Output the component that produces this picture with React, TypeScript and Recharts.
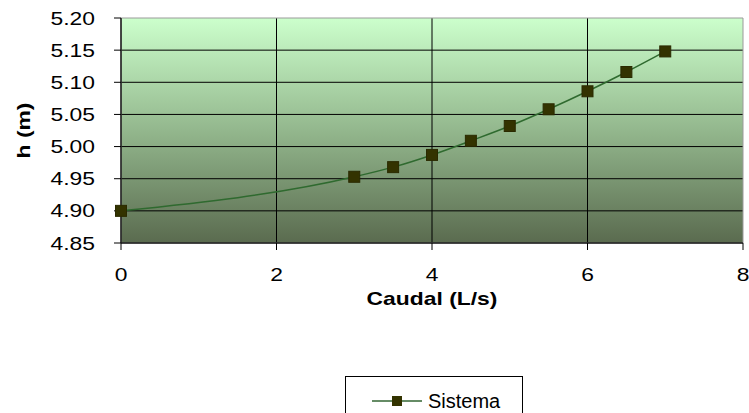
import { Line, LineChart, XAxis, YAxis, CartesianGrid, ReferenceArea } from "recharts";

const caudal = [0, 3, 3.5, 4, 4.5, 5, 5.5, 6, 6.5, 7];
const altura = [4.9, 4.953, 4.968, 4.987, 5.009, 5.032, 5.058, 5.086, 5.116, 5.148];
const xTicks = [0, 2, 4, 6, 8];
const yTicks = [4.85, 4.9, 4.95, 5.0, 5.05, 5.1, 5.15, 5.2];
const xDomain = [0, 8];
const yDomain = [4.85, 5.2];

const data = caudal.map((q, i) => ({ q, h: altura[i] }));

const FONT = "'Liberation Sans', Arial, sans-serif";
const STRETCH = 1.27;

function WideText({ x, y, anchor, children, bold, rotate }: any) {
  const t = rotate
    ? `translate(${x},${y}) rotate(-90) scale(${STRETCH},1)`
    : `translate(${x},${y}) scale(${STRETCH},1)`;
  return (
    <text
      transform={t}
      textAnchor={anchor}
      dominantBaseline="central"
      fontFamily={FONT}
      fontSize={18}
      fontWeight={bold ? "bold" : "normal"}
      fill="#000"
    >
      {children}
    </text>
  );
}

function XTick(props: any) {
  const { x, y, payload } = props;
  return (
    <WideText x={x} y={y + 22} anchor="middle">
      {payload.value}
    </WideText>
  );
}

function YTick(props: any) {
  const { x, y, payload } = props;
  return (
    <WideText x={x - 17} y={y} anchor="end">
      {Number(payload.value).toFixed(2)}
    </WideText>
  );
}

function XLabel(props: any) {
  const { viewBox } = props;
  return (
    <WideText x={viewBox.x + viewBox.width / 2} y={viewBox.y + 55} anchor="middle" bold>
      Caudal (L/s)
    </WideText>
  );
}

function YLabel(props: any) {
  const { viewBox } = props;
  return (
    <WideText x={viewBox.x + 23} y={viewBox.y + viewBox.height / 2} anchor="middle" bold rotate>
      h (m)
    </WideText>
  );
}

function SquareDot(props: any) {
  const { cx, cy } = props;
  if (cx == null || cy == null) return null;
  return <rect x={cx - 5.5} y={cy - 5.5} width={11} height={11} fill="#333300" stroke="#2a2a00" strokeWidth={1} />;
}

function LegendBox() {
  return (
    <div
      style={{
        position: "absolute",
        left: 345,
        top: 376,
        width: 176,
        height: 40,
        border: "1px solid #000",
        background: "#fff",
        fontFamily: FONT,
      }}
    >
      <svg width={60} height={20} style={{ position: "absolute", left: 24, top: 14 }}>
        <line x1={2} y1={10} x2={52} y2={10} stroke="#336633" strokeWidth={1.5} />
        <rect x={22} y={5} width={10} height={10} fill="#333300" />
      </svg>
      <span style={{ position: "absolute", left: 82, top: 13, fontSize: 20, color: "#000" }}>Sistema</span>
    </div>
  );
}

// inner grid lines only; the outer frame is drawn grey like the original
const innerY = ({ offset }: any) =>
  yTicks
    .filter((t) => t !== yDomain[1])
    .map((t) => offset.top + (offset.height * (yDomain[1] - t)) / (yDomain[1] - yDomain[0]));
const innerX = ({ offset }: any) =>
  xTicks
    .filter((t) => t !== xDomain[1])
    .map((t) => offset.left + (offset.width * (t - xDomain[0])) / (xDomain[1] - xDomain[0]));

export default function App() {
  return (
    <div style={{ position: "absolute", left: 0, top: 0, width: 749, height: 413, overflow: "hidden", background: "#fff" }}>
      <LineChart width={749} height={413} data={data} margin={{ top: 18, right: 6, left: 0, bottom: 0 }}>
        <defs>
          <linearGradient id="plotBg" x1="0" y1="0" x2="0" y2="1">
            <stop offset="0%" stopColor="#ccffcc" />
            <stop offset="50%" stopColor="#93b78d" />
            <stop offset="100%" stopColor="#5a6b4f" />
          </linearGradient>
        </defs>
        <CartesianGrid
          stroke="#000"
          strokeWidth={1}
          fill="url(#plotBg)"
          fillOpacity={1}
          horizontalCoordinatesGenerator={innerY}
          verticalCoordinatesGenerator={innerX}
        />
        <ReferenceArea x1={0} x2={8} y1={4.85} y2={5.2} fill="none" stroke="#9a9a9a" strokeWidth={1} />
        <XAxis
          dataKey="q"
          type="number"
          domain={xDomain}
          ticks={xTicks}
          height={170}
          tickSize={7}
          stroke="#000"
          tick={<XTick />}
          label={<XLabel />}
        />
        <YAxis
          dataKey="h"
          type="number"
          domain={yDomain}
          ticks={yTicks}
          width={121}
          tickSize={7}
          stroke="#000"
          tick={<YTick />}
          label={<YLabel />}
        />
        <Line
          type="monotone"
          dataKey="h"
          name="Sistema"
          stroke="#2f6a2f"
          strokeWidth={1.5}
          dot={<SquareDot />}
          activeDot={false}
          isAnimationActive={false}
        />
      </LineChart>
      <LegendBox />
    </div>
  );
}
